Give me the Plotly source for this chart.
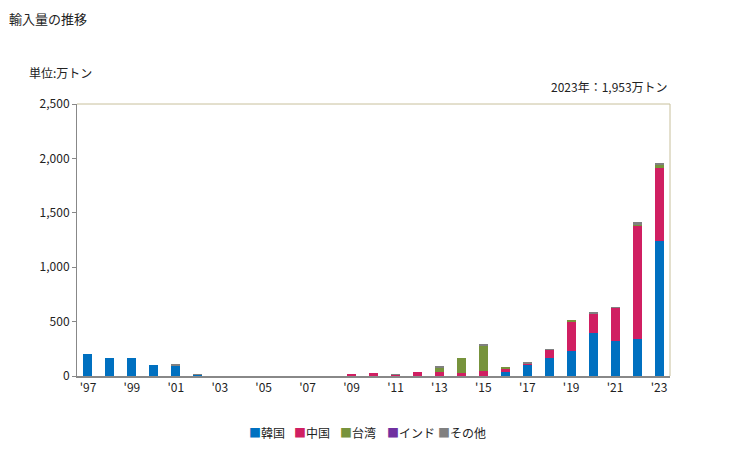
import plotly.graph_objects as go

years = list(range(1997, 2024))
korea = [200, 165, 165, 100, 100, 10, 0, 0, 0, 0, 0, 0, 0, 0, 0, 0, 0, 0, 0,
         37, 98, 169, 230, 395, 322, 340, 1240]
china = [0, 0, 0, 0, 0, 0, 0, 0, 0, 0, 0, 0, 20, 28, 10, 38, 37, 25, 46,
         28, 21, 70, 267, 175, 303, 1045, 675]
taiwan = [0, 0, 0, 0, 0, 0, 0, 0, 0, 0, 0, 0, 0, 0, 0, 0, 40, 141, 230,
          9, 0, 0, 9, 6, 0, 12, 33]
india = [0] * 27
other = [0, 0, 0, 0, 10, 2, 0, 0, 0, 0, 0, 0, 0, 0, 2, 0, 6, 0, 9,
         0, 9, 9, 0, 12, 9, 18, 5]

tick_years = list(range(1997, 2024, 2))
tick_labels = ["'97", "'99", "'01", "'03", "'05", "'07", "'09", "'11",
               "'13", "'15", "'17", "'19", "'21", "'23"]

series = [
    ("韓国", korea, "#0070C0"),
    ("中国", china, "#D01F62"),
    ("台湾", taiwan, "#77933C"),
    ("インド", india, "#7030A0"),
    ("その他", other, "#808080"),
]

font_family = "Noto Sans CJK JP, Noto Sans, sans-serif"

# the page body adds an 8px offset; figure is sized so the plot area lands
# at page x 77..670, y 104..376
OFF = 8
W, H = 729 - OFF, 450 - OFF
L, R, T, B = 77 - OFF, 59, 104 - OFF, 74
PW, PH = W - L - R, H - T - B


def px_x(p):
    return (p - OFF - L) / PW


def px_y(p):
    return (H - B - (p - OFF)) / PH


fig = go.Figure()
for name, vals, color in series:
    fig.add_trace(go.Bar(x=years, y=vals, name=name, marker_color=color,
                         marker_line_width=0, showlegend=False))

annotations = [
    dict(text="輸入量の推移", xref="paper", yref="paper", x=px_x(8), y=px_y(8),
         xanchor="left", yanchor="top", showarrow=False, font=dict(size=13),
         borderpad=0),
    dict(text="単位:万トン", xref="paper", yref="paper", x=px_x(27), y=px_y(73),
         xanchor="left", yanchor="middle", showarrow=False, font=dict(size=12)),
    dict(text="2023年：1,953万トン", xref="paper", yref="paper", x=1, y=px_y(86),
         xanchor="right", yanchor="middle", showarrow=False, font=dict(size=12)),
]
legend_x = [247, 292, 338, 385, 436]
for (name, vals, color), lx in zip(series, legend_x):
    annotations.append(dict(
        text=f"<span style='color:{color}'>■</span>{name}",
        xref="paper", yref="paper", x=px_x(lx), y=px_y(432),
        xanchor="left", yanchor="middle", showarrow=False, font=dict(size=12)))

fig.update_layout(
    barmode="stack",
    bargap=0.59,
    width=W, height=H,
    margin=dict(l=L, r=R, t=T, b=B, autoexpand=False),
    paper_bgcolor="white", plot_bgcolor="white",
    font=dict(family=font_family, size=11, color="#222222"),
    showlegend=False,
    annotations=annotations,
    shapes=[
        dict(type="line", xref="paper", yref="paper", x0=0, x1=1, y0=1, y1=1,
             line=dict(color="#C8C09C", width=1)),
        dict(type="line", xref="paper", yref="paper", x0=1, x1=1, y0=0, y1=1,
             line=dict(color="#C8C09C", width=1)),
    ],
)
fig.update_xaxes(range=[1996.5, 2023.5], tickvals=tick_years, ticktext=tick_labels,
                 showline=True, linecolor="#888888", linewidth=2, showgrid=False,
                 ticks="", tickfont=dict(size=12), zeroline=False, automargin=False)
fig.update_yaxes(range=[0, 2500], tickvals=[0, 500, 1000, 1500, 2000, 2500],
                 tickformat=",d", showline=True, linecolor="#888888", linewidth=1,
                 showgrid=False, ticks="outside", ticklen=4, tickcolor="#888888",
                 tickfont=dict(size=12), zeroline=False, automargin=False)

fig.write_html("out.html")
